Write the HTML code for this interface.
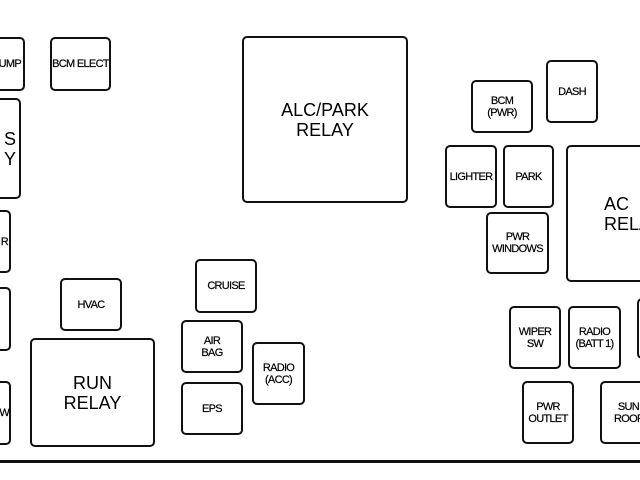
<!DOCTYPE html>
<html><head><style>
html,body{margin:0;padding:0;}
body{width:640px;height:480px;background:#fff;position:relative;overflow:hidden;font-family:"Liberation Sans",sans-serif;}
.b{position:absolute;box-sizing:border-box;border:2.5px solid #111;border-radius:5px;display:flex;align-items:center;justify-content:center;text-align:center;color:#000;font-size:11px;line-height:12px;letter-spacing:-0.7px;-webkit-text-stroke:0.2px #000;}
.L{font-size:18px;line-height:20px;letter-spacing:0;-webkit-text-stroke:0;}
.line{position:absolute;left:0;width:640px;top:460px;height:3px;background:#111;}
</style></head><body>
<div class="b" style="left:-40px;top:37px;width:65px;height:54px;justify-content:flex-end;padding-right:2px">PUMP</div>
<div class="b" style="left:50px;top:37px;width:61px;height:54px">BCM ELECT</div>
<div class="b L" style="left:242px;top:36px;width:166px;height:167px">ALC/PARK<br>RELAY</div>
<div class="b L" style="left:-80px;top:98px;width:101px;height:101px;justify-content:flex-end;padding-right:3px;text-align:right">S<br>Y</div>
<div class="b" style="left:-50px;top:210px;width:61px;height:63px;justify-content:flex-end;padding-right:1px">R</div>
<div class="b" style="left:-50px;top:287px;width:61px;height:64px"></div>
<div class="b" style="left:-50px;top:381px;width:61px;height:64px;justify-content:flex-end;padding-right:0">W</div>
<div class="b" style="left:60px;top:278px;width:62px;height:53px">HVAC</div>
<div class="b L" style="left:30px;top:338px;width:125px;height:109px">RUN<br>RELAY</div>
<div class="b" style="left:195px;top:259px;width:62px;height:54px">CRUISE</div>
<div class="b" style="left:181px;top:320px;width:62px;height:53px">AIR<br>BAG</div>
<div class="b" style="left:181px;top:382px;width:62px;height:53px">EPS</div>
<div class="b" style="left:252px;top:342px;width:53px;height:63px">RADIO<br>(ACC)</div>
<div class="b" style="left:471px;top:80px;width:62px;height:53px">BCM<br>(PWR)</div>
<div class="b" style="left:546px;top:60px;width:52px;height:63px">DASH</div>
<div class="b" style="left:445px;top:145px;width:52px;height:63px">LIGHTER</div>
<div class="b" style="left:503px;top:145px;width:51px;height:63px">PARK</div>
<div class="b" style="left:486px;top:212px;width:63px;height:62px">PWR<br>WINDOWS</div>
<div class="b L" style="left:566px;top:145px;width:120px;height:137px;justify-content:flex-start;padding-left:36px;text-align:left">AC<br>RELAY</div>
<div class="b" style="left:509px;top:306px;width:52px;height:63px">WIPER<br>SW</div>
<div class="b" style="left:568px;top:306px;width:53px;height:63px">RADIO<br>(BATT 1)</div>
<div class="b" style="left:637px;top:298px;width:50px;height:61px"></div>
<div class="b" style="left:522px;top:381px;width:52px;height:63px">PWR<br>OUTLET</div>
<div class="b" style="left:600px;top:381px;width:60px;height:63px;justify-content:flex-start;padding-left:12px;text-align:center">SUN<br>ROOF</div>
<div class="line"></div>
</body></html>
